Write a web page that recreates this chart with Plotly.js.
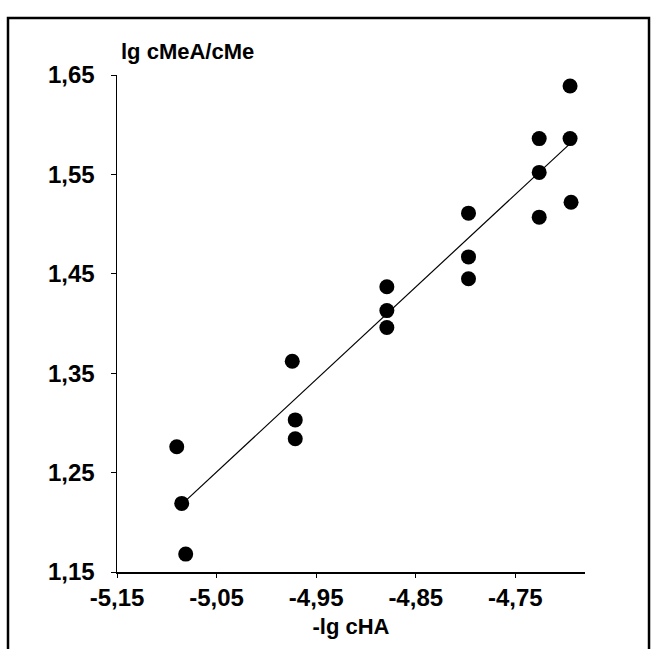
<!DOCTYPE html>
<html>
<head>
<meta charset="utf-8">
<script src="https://cdn.plot.ly/plotly-3.0.1.min.js"></script>
<style>html,body{margin:0;padding:0;background:#fff;}#chart{width:656px;height:649px;}</style>
</head>
<body>
<div id="chart"></div>
<script>
// -lg cHA (x) and lg cMeA/cMe (y) measured points
const xValues = [-5.090, -5.085, -5.081, -4.974, -4.971, -4.971, -4.879, -4.879, -4.879,
                 -4.797, -4.797, -4.797, -4.726, -4.726, -4.726, -4.695, -4.695, -4.694];
const yValues = [1.276, 1.219, 1.168, 1.362, 1.303, 1.284, 1.437, 1.413, 1.396,
                 1.511, 1.467, 1.445, 1.586, 1.552, 1.507, 1.639, 1.586, 1.522];
// regression line end points
const lineX = [-5.085, -4.695];
const lineY = [1.218, 1.581];

const xTickVals = [-5.15, -5.05, -4.95, -4.85, -4.75];
const xTickText = ['-5,15', '-5,05', '-4,95', '-4,85', '-4,75'];
const yTickVals = [1.15, 1.25, 1.35, 1.45, 1.55, 1.65];
const yTickText = ['1,15', '1,25', '1,35', '1,45', '1,55', '1,65'];

const tickFont = {family: 'Liberation Sans, Arial, sans-serif', size: 24, color: '#000', weight: 'bold'};
const titleFont = {family: 'Liberation Sans, Arial, sans-serif', size: 22, color: '#000', weight: 'bold'};

const traces = [
  {x: lineX, y: lineY, type: 'scatter', mode: 'lines',
   line: {color: '#000', width: 1.2}, hoverinfo: 'skip', showlegend: false},
  {x: xValues, y: yValues, type: 'scatter', mode: 'markers',
   marker: {color: '#000', size: 15}, showlegend: false}
];

const layout = {
  width: 656, height: 649,
  margin: {l: 117, r: 71, t: 75, b: 77},
  paper_bgcolor: '#fff', plot_bgcolor: '#fff',
  font: tickFont,
  showlegend: false,
  xaxis: {
    range: [-5.15, -4.68], tickvals: xTickVals, ticktext: xTickText,
    showgrid: false, zeroline: false, showline: true, linecolor: '#000', linewidth: 1.5,
    ticks: 'outside', ticklen: 4, tickcolor: '#000', tickwidth: 1,
    ticklabelstandoff: 0,
    tickfont: tickFont,
    title: {text: '-lg cHA', font: titleFont, standoff: 8}
  },
  yaxis: {
    range: [1.15, 1.65], tickvals: yTickVals, ticktext: yTickText,
    showgrid: false, zeroline: false, showline: true, linecolor: '#000', linewidth: 1.5,
    ticks: 'outside', ticklen: 5, tickcolor: '#000', tickwidth: 1,
    ticklabelstandoff: 11,
    tickfont: tickFont
  },
  annotations: [{
    text: 'lg cMeA/cMe', xref: 'paper', yref: 'paper', x: 0, y: 1,
    xanchor: 'left', yanchor: 'middle', xshift: 2, yshift: 24,
    showarrow: false, font: titleFont
  }],
  shapes: [{
    type: 'path', xref: 'paper', yref: 'paper',
    path: 'M -0.2329,-0.2 L -0.2329,1.1147 L 1.1368,1.1147 L 1.1368,-0.2',
    line: {color: '#000', width: 2.5}
  }]
};

Plotly.newPlot('chart', traces, layout, {displayModeBar: false, staticPlot: true});
</script>
</body>
</html>
